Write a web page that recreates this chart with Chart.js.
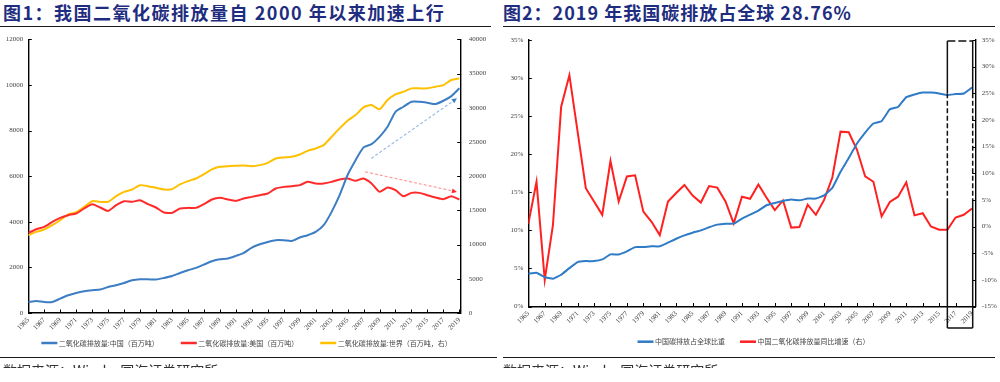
<!DOCTYPE html>
<html><head><meta charset="utf-8">
<script src="https://cdn.jsdelivr.net/npm/chart.js@4.4.1/dist/chart.umd.min.js"></script>
<style>
html,body{margin:0;padding:0;background:#fff;}
body{width:1000px;height:382px;overflow:hidden;position:relative;font-family:"Noto Sans CJK SC",sans-serif;}
.title{position:absolute;top:0;height:25px;line-height:25px;font-weight:bold;font-size:18px;color:#1f2d80;white-space:nowrap;font-family:"Noto Sans CJK SC",serif;}
.rule{position:absolute;height:1.4px;background:#1a1a1a;}
.src{position:absolute;top:362px;height:6px;overflow:hidden;font-size:14px;line-height:16px;color:#333;white-space:nowrap;}
.cv{position:absolute;top:0;}
</style></head>
<body>
<div class="title" style="left:3px;letter-spacing:1.5px;">图1：我国二氧化碳排放量自 2000 年以来加速上行</div>
<div class="title" style="left:503px;letter-spacing:1px;">图2：2019 年我国碳排放占全球 28.76%</div>
<div class="rule" style="left:0;top:25.5px;width:491px;"></div>
<div class="rule" style="left:503px;top:25.5px;width:492px;"></div>
<div class="cv" style="left:0;"><canvas id="c1" width="500" height="360"></canvas></div>
<div class="cv" style="left:500px;"><canvas id="c2" width="500" height="360"></canvas></div>
<div class="rule" style="left:0;top:357px;width:497px;"></div>
<div class="rule" style="left:503px;top:357px;width:492px;"></div>
<div class="src" style="left:3px;">数据来源：Wind，国海证券研究所</div>
<div class="src" style="left:503px;">数据来源：Wind，国海证券研究所</div>
<script>
// ---- data ----
const years = [1965,1966,1967,1968,1969,1970,1971,1972,1973,1974,1975,1976,1977,1978,1979,1980,1981,1982,1983,1984,1985,1986,1987,1988,1989,1990,1991,1992,1993,1994,1995,1996,1997,1998,1999,2000,2001,2002,2003,2004,2005,2006,2007,2008,2009,2010,2011,2012,2013,2014,2015,2016,2017,2018,2019];
const tickYears = [1965,1967,1969,1971,1973,1975,1977,1979,1981,1983,1985,1987,1989,1991,1993,1995,1997,1999,2001,2003,2005,2007,2009,2011,2013,2015,2017,2019];

// Figure 1 (million tonnes)
const chinaCO2 = [483,527,483,483,630,777,880,953,996,1026,1143,1216,1317,1435,1480,1480,1465,1537,1625,1756,1874,1976,2123,2270,2357,2386,2503,2634,2870,3015,3116,3190,3190,3160,3310,3410,3555,3850,4435,5166,6050,6700,7260,7405,7725,8165,8823,9042,9262,9262,9218,9160,9305,9510,9850];
const usCO2 = [3511,3673,3775,3994,4170,4288,4363,4582,4771,4626,4477,4727,4903,4873,4947,4771,4626,4407,4390,4582,4609,4609,4771,4977,5048,4977,4916,5021,5092,5166,5240,5460,5530,5561,5605,5750,5680,5680,5750,5855,5900,5795,5900,5680,5311,5504,5385,5122,5267,5267,5166,5065,4990,5122,4977];
const worldCO2 = [11368,11851,12200,12830,13560,14400,14733,15510,16340,16240,16240,17070,17700,18050,18680,18540,18290,18050,18100,18790,19270,19660,20290,20980,21360,21460,21510,21550,21460,21610,21950,22590,22740,22820,23170,23700,24050,24540,25750,26980,28090,28930,30050,30390,29760,31120,31950,32330,32830,32830,32830,33070,33310,34050,34290];
const fig1Labels = ['二氧化碳排放量:中国（百万吨）','二氧化碳排放量:美国（百万吨）','二氧化碳排放量:世界（百万吨，右）'];
// trend arrows: [year, right-axis value] start and end
const blueArrow = [[2007.96,22590],[2018.7,31370]];
const redArrow = [[2007.2,20630],[2018.7,17700]];

// Figure 2 (%)
const chinaShare = [4.3,4.43,3.86,3.64,4.17,5.04,5.83,5.96,5.96,6.18,6.84,6.84,7.24,7.8,7.8,7.9,7.9,8.38,8.9,9.34,9.69,10.0,10.4,10.75,10.88,10.88,11.54,12.06,12.6,13.3,13.6,13.86,14.04,13.95,14.17,14.17,14.6,15.57,17.7,19.5,21.4,22.85,24.04,24.34,25.9,26.2,27.5,27.85,28.1,28.1,27.98,27.76,27.9,27.98,28.76];
const chinaGrowth = [0.5,8.4,-10.0,0.3,22.5,28.4,17.8,7.2,4.7,2.2,12.3,4.7,9.4,9.6,2.8,0.9,-1.6,4.7,6.3,7.8,5.8,4.5,7.6,7.3,4.7,0.6,5.6,5.2,7.9,5.4,3.1,4.9,-0.2,-0.1,4.1,2.2,5.0,9.2,17.8,17.7,14.4,9.4,8.4,1.9,4.6,5.6,8.3,2.1,2.5,0.0,-0.6,-0.6,1.7,2.2,3.4];
const fig2Labels = ['中国碳排放占全球比重','中国二氧化碳排放量同比增速（右）'];
const highlightYears = [2016,2019];
const highlightDashBand = [5,25]; // right-axis % band drawn dashed on box sides

// ---- helpers ----
const pts = arr => years.map((y,i)=>({x:y,y:arr[i]}));
const tickFont = {family:'"Liberation Serif", serif', size:7};
const tickColor = '#444';

const innerTicks = {
  id:'innerTicks',
  afterDatasetsDraw(chart){
    const ctx=chart.ctx, a=chart.chartArea;
    ctx.save(); ctx.strokeStyle='#000'; ctx.lineWidth=1;
    Object.values(chart.scales).forEach(s=>{
      s.ticks.forEach(t=>{
        const p=Math.round(s.getPixelForValue(t.value))+0.5;
        ctx.beginPath();
        if(s.axis==='x'){ctx.moveTo(p,a.bottom);ctx.lineTo(p,a.bottom-3.5);}
        else if(s.position==='left'){ctx.moveTo(a.left,p);ctx.lineTo(a.left+3.5,p);}
        else {ctx.moveTo(a.right,p);ctx.lineTo(a.right-3.5,p);}
        ctx.stroke();
      });
    });
    ctx.restore();
  }
};

function legendPlugin(cx, cy, gap){
  return {id:'lineLegend', afterDraw(chart){
    const ctx=chart.ctx; ctx.save();
    ctx.font='7px "Noto Sans CJK SC"'; ctx.textBaseline='middle'; ctx.textAlign='left';
    const ds=chart.data.datasets, boxW=16, tg=1.5;
    const widths=ds.map(d=>boxW+tg+ctx.measureText(d.label).width);
    const total=widths.reduce((a,b)=>a+b,0)+gap*(ds.length-1);
    let x=cx-total/2;
    ds.forEach((d,i)=>{
      ctx.fillStyle=d.borderColor; ctx.fillRect(x,cy-1.25,boxW,2.5);
      ctx.fillStyle='#444'; ctx.fillText(d.label,x+boxW+tg,cy);
      x+=widths[i]+gap;
    });
    ctx.restore();
  }};
}

function drawArrow(ctx,x1,y1,x2,y2,lineColor,headColor){
  const ang=Math.atan2(y2-y1,x2-x1), hl=5;
  ctx.save();
  ctx.strokeStyle=lineColor; ctx.lineWidth=1.2; ctx.setLineDash([3,2]);
  ctx.beginPath(); ctx.moveTo(x1,y1); ctx.lineTo(x2-hl*Math.cos(ang),y2-hl*Math.sin(ang)); ctx.stroke();
  ctx.setLineDash([]); ctx.fillStyle=headColor;
  ctx.beginPath(); ctx.moveTo(x2,y2);
  ctx.lineTo(x2-hl*Math.cos(ang)+2.5*Math.sin(ang), y2-hl*Math.sin(ang)-2.5*Math.cos(ang));
  ctx.lineTo(x2-hl*Math.cos(ang)-2.5*Math.sin(ang), y2-hl*Math.sin(ang)+2.5*Math.cos(ang));
  ctx.closePath(); ctx.fill();
  ctx.restore();
}
const arrowsPlugin = {
  id:'arrows',
  afterDatasetsDraw(chart){
    const x=chart.scales.x, y=chart.scales.y2, ctx=chart.ctx;
    const P = p => [x.getPixelForValue(p[0]), y.getPixelForValue(p[1])];
    let a=P(blueArrow[0]), b=P(blueArrow[1]);
    drawArrow(ctx,a[0],a[1],b[0],b[1],'#9dbde6','#3c7dc4');
    a=P(redArrow[0]); b=P(redArrow[1]);
    drawArrow(ctx,a[0],a[1],b[0],b[1],'#ff9a9a','#ff2a2a');
  }
};
const boxPlugin = {
  id:'hbox',
  afterDraw(chart){
    const x=chart.scales.x, y2=chart.scales.y2, ctx=chart.ctx, ar=chart.chartArea;
    const L=x.getPixelForValue(highlightYears[0]), R=x.getPixelForValue(highlightYears[1])+0.7;
    const T=ar.top+1, B=ar.bottom+21.5;
    const d1=y2.getPixelForValue(highlightDashBand[1]), d2=y2.getPixelForValue(highlightDashBand[0]);
    ctx.save(); ctx.strokeStyle='#111'; ctx.lineWidth=1.5;
    ctx.setLineDash([8,3]); ctx.beginPath(); ctx.moveTo(L,T); ctx.lineTo(R,T); ctx.stroke();
    ctx.setLineDash([]); ctx.beginPath();
    [L,R].forEach(xx=>{ctx.moveTo(xx,T);ctx.lineTo(xx,d1);ctx.moveTo(xx,d2);ctx.lineTo(xx,B);});
    ctx.moveTo(L,B); ctx.lineTo(R,B); ctx.stroke();
    ctx.setLineDash([5,2.5]); ctx.beginPath();
    [L,R].forEach(xx=>{ctx.moveTo(xx,d1);ctx.lineTo(xx,d2);});
    ctx.stroke();
    ctx.restore();
  }
};

const border = {display:true,color:'#000',width:1.4};
const noGrid = {display:false,drawTicks:false};
function xScale(max,h){
  return {type:'linear',min:1965,max:max,grid:noGrid,border:border,
    afterBuildTicks:s=>{s.ticks=tickYears.map(v=>({value:v}));},
    afterFit:s=>{s.height=h;},
    ticks:{autoSkip:false,minRotation:45,maxRotation:45,padding:3,font:tickFont,color:tickColor,callback:v=>String(v)}};
}

new Chart(document.getElementById('c1'),{
  type:'line',
  data:{datasets:[
    {label:fig1Labels[0],data:pts(chinaCO2),yAxisID:'y',borderColor:'#3c7dc4',backgroundColor:'#3c7dc4',borderWidth:2,pointRadius:0,tension:0.2},
    {label:fig1Labels[1],data:pts(usCO2),yAxisID:'y',borderColor:'#ff2a2a',backgroundColor:'#ff2a2a',borderWidth:2,pointRadius:0,tension:0.2},
    {label:fig1Labels[2],data:pts(worldCO2),yAxisID:'y2',borderColor:'#ffc000',backgroundColor:'#ffc000',borderWidth:2,pointRadius:0,tension:0.2}
  ]},
  options:{responsive:false,devicePixelRatio:1,animation:false,
    layout:{padding:{top:39.3,left:0,right:0,bottom:0}},
    plugins:{legend:{display:false},tooltip:{enabled:false}},
    scales:{
      x:xScale(2019.17,47),
      y:{position:'left',min:0,max:12000,grid:noGrid,border:border,afterFit:s=>{s.width=28.3;},
        ticks:{stepSize:2000,padding:5,font:tickFont,color:tickColor,callback:v=>String(v)}},
      y2:{position:'right',min:0,max:40000,grid:noGrid,border:border,afterFit:s=>{s.width=39.3;},
        ticks:{stepSize:5000,padding:8,font:tickFont,color:tickColor,callback:v=>String(v)}}
    }},
  plugins:[innerTicks,arrowsPlugin,legendPlugin(246.5,343,22)]
});

new Chart(document.getElementById('c2'),{
  type:'line',
  data:{datasets:[
    {label:fig2Labels[0],data:pts(chinaShare),yAxisID:'y',borderColor:'#2f7bc6',backgroundColor:'#2f7bc6',borderWidth:2,pointRadius:0,tension:0.1},
    {label:fig2Labels[1],data:pts(chinaGrowth),yAxisID:'y2',borderColor:'#ff2020',backgroundColor:'#ff2020',borderWidth:2,pointRadius:0,tension:0}
  ]},
  options:{responsive:false,devicePixelRatio:1,animation:false,
    layout:{padding:{top:40,left:0,right:0,bottom:0}},
    plugins:{legend:{display:false},tooltip:{enabled:false}},
    scales:{
      x:xScale(2019.45,53.5),
      y:{position:'left',min:0,max:35,grid:noGrid,border:border,afterFit:s=>{s.width=28.3;},
        ticks:{stepSize:5,padding:5,font:tickFont,color:tickColor,callback:v=>v+'%'}},
      y2:{position:'right',min:-15,max:35,grid:noGrid,border:border,afterFit:s=>{s.width=24.3;},
        ticks:{stepSize:5,padding:6,font:tickFont,color:tickColor,callback:v=>v+'%'}}
    }},
  plugins:[innerTicks,boxPlugin,legendPlugin(253.5,341.7,15)]
});
</script>
</body></html>
